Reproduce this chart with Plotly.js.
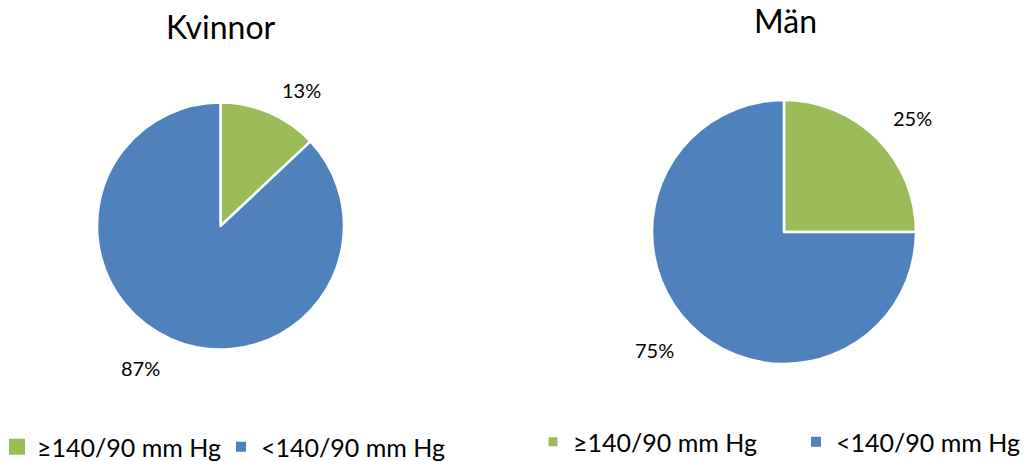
<!DOCTYPE html>
<html>
<head>
<meta charset="utf-8">
<script src="https://cdn.plot.ly/plotly-3.0.1.min.js"></script>
<style>html,body{margin:0;padding:0;background:#fff;}#chart{width:1036px;height:461px;}</style>
</head>
<body>
<div id="chart"></div>
<script>
const categories = ["≥140/90 mm Hg", "<140/90 mm Hg"];
const groups = ["Kvinnor", "Män"];
const kvinnorValues = [13, 87];
const manValues = [25, 75];
const colors = ["#9BBB59", "#4F81BD"];

const W = 1036, H = 461;
const FONT = "Lato, 'Liberation Sans', sans-serif";
function px(x){return x / W;}
function py(y){return 1 - y / H;}

function pieTrace(values, name, dom){
  return {
    type: "pie",
    name: name,
    labels: categories,
    values: values,
    sort: false,
    direction: "clockwise",
    rotation: 0,
    marker: {colors: colors, line: {color: "#ffffff", width: 2.5}},
    textinfo: "none",
    hoverinfo: "label+percent",
    domain: dom,
    showlegend: false
  };
}

// legend entries (one legend per pie)
function legendTrace(i, legendId, size){
  return {
    type: "scatter", mode: "markers",
    x: [null], y: [null],
    name: categories[i],
    marker: {symbol: "square", color: colors[i], size: size},
    legend: legendId,
    showlegend: true,
    hoverinfo: "skip"
  };
}

const traces = [
  pieTrace(kvinnorValues, groups[0], {x:[px(97), px(344)], y:[py(350), py(102)]}),
  pieTrace(manValues, groups[1], {x:[px(652), px(916)], y:[py(364), py(100)]}),
  legendTrace(0, "legend", 16),
  legendTrace(1, "legend", 10),
  legendTrace(0, "legend2", 9),
  legendTrace(1, "legend2", 10)
];

function pct(vals, i){
  const s = vals.reduce((a,b)=>a+b,0);
  return Math.round(vals[i] / s * 100) + "%";
}

const labelPos = [
  [pct(kvinnorValues,0), 301, 90],
  [pct(kvinnorValues,1), 140, 368],
  [pct(manValues,0), 912, 118],
  [pct(manValues,1), 654, 350]
];

const annotations = labelPos.map(p => ({
  text: p[0], x: px(p[1]), y: py(p[2]), xref: "paper", yref: "paper",
  showarrow: false, xanchor: "center", yanchor: "middle",
  font: {family: FONT, size: 20, color: "#000"}
}));
annotations.push({text: groups[0], x: px(221), y: py(27), xref:"paper", yref:"paper", showarrow:false, xanchor:"center", yanchor:"middle", font:{family:FONT, size:32, color:"#000"}});
annotations.push({text: groups[1], x: px(785), y: py(21), xref:"paper", yref:"paper", showarrow:false, xanchor:"center", yanchor:"middle", font:{family:FONT, size:32, color:"#000"}});

const legendCommon = {
  orientation: "h",
  font: {family: FONT, size: 25, color: "#000"},
  bgcolor: "rgba(0,0,0,0)",
  xanchor: "left", yanchor: "middle",
  traceorder: "normal",
  itemclick: false, itemdoubleclick: false,
  entrywidthmode: "pixels"
};

const layout = {
  width: W, height: H,
  margin: {l:0, r:0, t:0, b:0, autoexpand: false},
  paper_bgcolor: "#fff",
  plot_bgcolor: "#fff",
  xaxis: {visible: false, fixedrange: true},
  yaxis: {visible: false, fixedrange: true},
  annotations: annotations,
  legend: Object.assign({}, legendCommon, {x: px(-3), y: py(447), entrywidth: 179}),
  legend2: Object.assign({}, legendCommon, {x: px(533), y: py(442), entrywidth: 218})
};

Plotly.newPlot("chart", traces, layout, {displayModeBar: false});
</script>
</body>
</html>
